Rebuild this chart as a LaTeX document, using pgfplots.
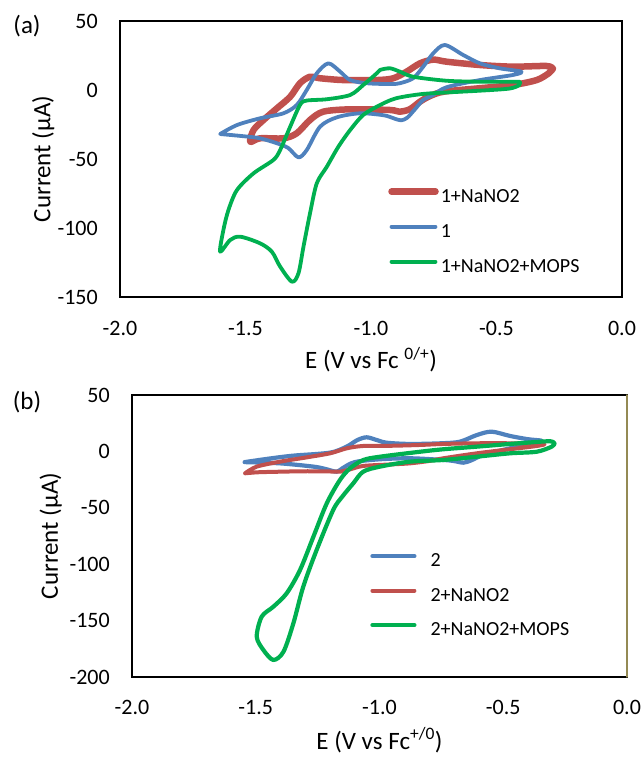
\documentclass[border=0pt]{standalone}
\usepackage{fontspec}
\setmainfont{Carlito}
\usepackage{pgfplots}
\pgfplotsset{compat=1.18}

\definecolor{cvred}{RGB}{192,80,77}
\definecolor{cvblue}{RGB}{79,129,189}
\definecolor{cvgreen}{RGB}{0,176,80}
\definecolor{cvolive}{RGB}{148,138,84}

\pgfplotsset{
  cvaxis/.style={
    scale only axis, anchor=south west,
    xmin=-2, xmax=0, xtick={-2,-1.5,-1,-0.5,0},
    major tick length=0pt, tick style={draw=none},
    /pgf/number format/assume math mode=true,
    ticklabel style={font=\fontsize{22}{26}\selectfont, inner sep=0pt},
    xticklabel style={/pgf/number format/fixed, /pgf/number format/fixed zerofill, /pgf/number format/precision=1},
    label style={font=\fontsize{25}{30}\selectfont},
    legend cell align=left,
    every axis plot/.append style={smooth, line cap=round, line join=round},
  },
}

\begin{document}
\begin{tikzpicture}[x=1pt,y=1pt]
\path[use as bounding box] (0,0) rectangle (641,757);

% ---------------- (a) ----------------
\begin{axis}[cvaxis,
    at={(120pt,460pt)}, width=502pt, height=276pt,
    ymin=-150, ymax=50, ytick={-150,-100,-50,0,50},
    axis line style={line width=1.8pt},
    xticklabel shift=24pt, yticklabel shift=22pt,
    xlabel={E (V vs Fc \textsuperscript{0/+})},
    ylabel={Current (µA)},
    xlabel style={at={(axis description cs:0.5,-0.228)}, anchor=center},
    ylabel style={at={(axis description cs:-0.153,0.5)}, anchor=center},
    legend style={draw=none, fill=none, inner sep=0pt,
      at={(axis description cs:0.528,0.395)}, anchor=north west,
      row sep=16pt, font=\fontsize{20}{24}\selectfont,
      nodes={inner sep=0pt, text height=14pt, text depth=5pt}},
    legend image code/.code={\draw[#1] (3pt,6pt) -- (47pt,6pt); \path (0pt,0pt) (49pt,0pt);},
]
\addplot[cvred, line width=6.5pt] coordinates {
(-0.275,15.5) (-0.301,17.4) (-0.434,16.9) (-0.566,18.1) (-0.699,20.5)
(-0.752,22.0) (-0.805,19.3) (-0.858,13.3) (-0.911,8.5) (-0.977,7.2)
(-1.110,7.2) (-1.203,8.5) (-1.243,9.6) (-1.283,4.9) (-1.322,-4.9)
(-1.375,-13.3) (-1.428,-21.7) (-1.468,-29.0) (-1.481,-37.5)
(-1.442,-35.0) (-1.349,-35.0) (-1.296,-31.4) (-1.243,-21.7) (-1.190,-15.7)
(-1.083,-14.0) (-0.924,-14.5) (-0.887,-15.7) (-0.846,-14.0) (-0.805,-8.5)
(-0.764,-4.3) (-0.709,-1.2) (-0.572,1.2) (-0.435,3.6) (-0.340,7.2)
(-0.292,12.1) (-0.275,15.5)};
\addlegendentry{1+NaNO2}
\addplot[cvblue, line width=3.8pt] coordinates {
(-1.601,-31.9) (-1.534,-25.4) (-1.442,-20.5) (-1.349,-16.9) (-1.296,-10.9)
(-1.256,0) (-1.216,12.1) (-1.170,19.3) (-1.123,13.3) (-1.083,7.2)
(-1.017,4.9) (-0.924,4.3) (-0.885,4.9) (-0.832,8.5) (-0.792,16.9)
(-0.752,26.6) (-0.706,32.6) (-0.633,25.4) (-0.566,19.3) (-0.487,15.7)
(-0.401,13.3) (-0.434,10.9) (-0.566,7.2) (-0.699,2.0) (-0.752,-3.6)
(-0.792,-7.2) (-0.825,-14.0) (-0.855,-20.0) (-0.880,-22.0) (-0.910,-20.5)
(-0.950,-18.3) (-1.044,-16.9) (-1.136,-19.8) (-1.203,-26.6) (-1.256,-43.5)
(-1.289,-48.8) (-1.330,-42.0) (-1.375,-38.6) (-1.442,-35.0) (-1.508,-33.5)
(-1.601,-31.9)};
\addlegendentry{1}
\addplot[cvgreen, line width=3.8pt] coordinates {
(-0.407,6.0) (-0.566,6.0) (-0.699,6.7) (-0.832,9.6) (-0.885,13.3)
(-0.924,15.7) (-0.964,14.5) (-0.977,12.1) (-1.031,3.6) (-1.083,-3.6)
(-1.176,-6.7) (-1.257,-7.7) (-1.283,-10.9) (-1.322,-26.6) (-1.362,-43.5)
(-1.389,-50.7) (-1.468,-60.4) (-1.534,-72.5) (-1.568,-87.0) (-1.588,-101.4)
(-1.601,-117.2) (-1.561,-108.7) (-1.521,-106.3) (-1.442,-111.1) (-1.395,-117.2)
(-1.362,-128.0) (-1.315,-138.9) (-1.289,-132.8) (-1.269,-113.5) (-1.243,-89.4)
(-1.216,-67.6) (-1.176,-55.6) (-1.130,-41.1) (-1.083,-29.0) (-1.031,-18.1)
(-0.964,-10.9) (-0.900,-6.0) (-0.800,-3.0) (-0.700,-1.8) (-0.566,-0.5)
(-0.450,1.0) (-0.410,3.5) (-0.407,6.0)};
\addlegendentry{1+NaNO2+MOPS}
\end{axis}

% ---------------- (b) ----------------
\begin{axis}[cvaxis,
    at={(132pt,80pt)}, width=495pt, height=282pt,
    ymin=-200, ymax=50, ytick={-200,-150,-100,-50,0,50},
    axis line style={line width=1.5pt}, clip=false,
    xticklabel shift=23pt, yticklabel shift=22pt,
    xlabel={E (V vs Fc\textsuperscript{+/0})},
    ylabel={Current (µA)},
    xlabel style={at={(axis description cs:0.5,-0.224)}, anchor=center},
    ylabel style={at={(axis description cs:-0.164,0.5)}, anchor=center},
    legend style={draw=none, fill=none, inner sep=0pt,
      at={(axis description cs:0.477,0.442)}, anchor=north west,
      row sep=15.5pt, font=\fontsize{20}{24}\selectfont,
      nodes={inner sep=0pt, text height=14pt, text depth=5pt}},
    legend image code/.code={\draw[#1] (2pt,6pt) -- (44pt,6pt); \path (0pt,0pt) (58pt,0pt);},
]
\addplot[cvblue, line width=4.2pt] coordinates {
(-1.545,-9.5) (-1.450,-6.5) (-1.350,-3.8) (-1.200,-1.1) (-1.133,4.2)
(-1.090,10.0) (-1.052,12.5) (-1.010,10.0) (-0.971,7.7) (-0.877,6.6)
(-0.750,7.2) (-0.675,8.6) (-0.607,14.5) (-0.547,17.5) (-0.473,13.7)
(-0.400,10.8) (-0.345,9.5) (-0.360,7.7) (-0.473,2.7) (-0.581,-3.2)
(-0.630,-8.0) (-0.661,-10.0) (-0.700,-8.5) (-0.742,-7.6) (-0.877,-6.1)
(-1.000,-7.0) (-1.100,-9.5) (-1.150,-15.0) (-1.173,-18.0) (-1.220,-15.5)
(-1.267,-13.5) (-1.402,-10.6) (-1.545,-9.5)};
\addlegendentry{2}
\addplot[cvred, line width=4.0pt] coordinates {
(-1.543,-19.4) (-1.496,-13.5) (-1.402,-9.1) (-1.300,-5.5) (-1.200,-1.7)
(-1.133,2.7) (-1.066,4.8) (-0.950,5.0) (-0.836,5.7) (-0.742,6.6)
(-0.607,7.2) (-0.473,7.2) (-0.338,6.6) (-0.365,4.8) (-0.473,1.9)
(-0.607,-1.7) (-0.742,-6.1) (-0.800,-8.5) (-0.877,-10.6) (-0.950,-11.5)
(-1.066,-12.9) (-1.120,-16.0) (-1.160,-18.0) (-1.200,-17.8) (-1.300,-17.6)
(-1.402,-18.0) (-1.490,-18.5) (-1.543,-19.4)};
\addlegendentry{2+NaNO2}
\addplot[cvgreen, line width=4.2pt] coordinates {
(-0.293,7.0) (-0.311,9.0) (-0.400,7.8) (-0.473,6.6) (-0.607,4.2)
(-0.742,1.9) (-0.836,-0.3) (-0.998,-4.7) (-1.065,-7.6) (-1.119,-15.0)
(-1.160,-25.4) (-1.213,-46.0) (-1.267,-75.6) (-1.321,-105.1) (-1.375,-125.8)
(-1.429,-137.7) (-1.476,-146.5) (-1.496,-164.3) (-1.469,-176.1) (-1.429,-184.9)
(-1.388,-177.6) (-1.348,-152.4) (-1.308,-119.9) (-1.254,-87.4) (-1.187,-51.9)
(-1.150,-40.0) (-1.106,-28.3) (-1.066,-18.0) (-0.998,-13.5) (-0.877,-9.1)
(-0.742,-7.6) (-0.607,-4.7) (-0.473,-1.7) (-0.365,-0.3) (-0.304,4.2)
(-0.293,7.0)};
\addlegendentry{2+NaNO2+MOPS}
\addplot[forget plot, cvolive, line width=1.5pt, sharp plot] coordinates {(0,-200) (0,50)};
\end{axis}

\node[font=\fontsize{25}{30}\selectfont] at (27,731) {(a)};
\node[font=\fontsize{25}{30}\selectfont] at (27,355) {(b)};
\end{tikzpicture}
\end{document}
